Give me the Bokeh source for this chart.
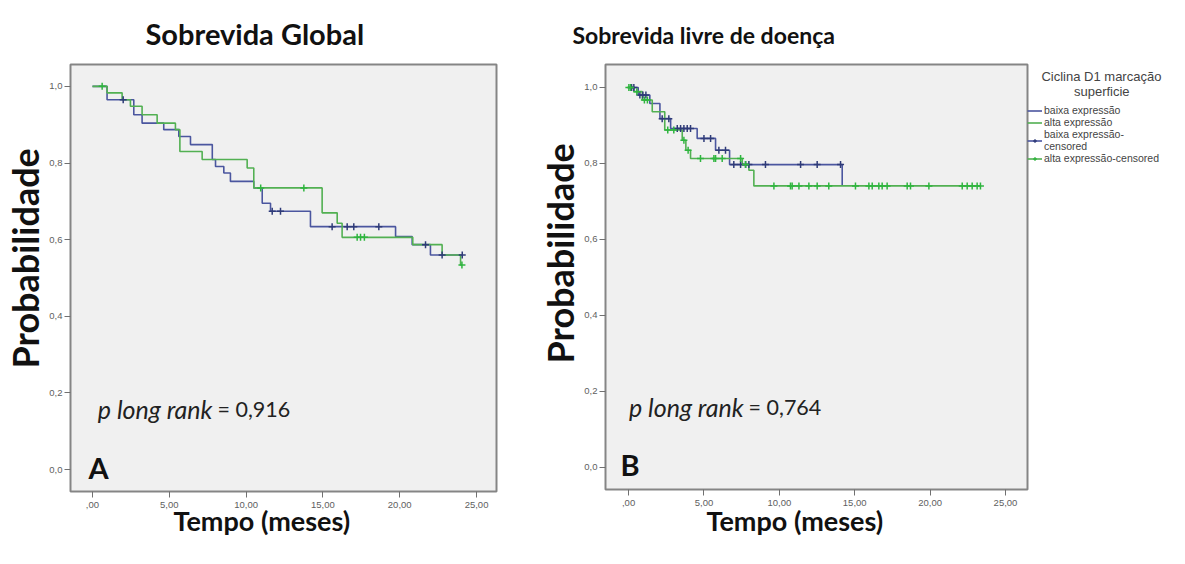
from bokeh.plotting import figure
from bokeh.layouts import row
from bokeh.models import Range1d, FixedTicker, Legend, LegendItem, Label, Title
from bokeh.embed import file_html
from bokeh.resources import INLINE

# ---------------- data ----------------
x_ticks = [0, 5, 10, 15, 20, 25]
x_tick_labels = [",00", "5,00", "10,00", "15,00", "20,00", "25,00"]
y_ticks = [0.0, 0.2, 0.4, 0.6, 0.8, 1.0]
y_tick_labels = ["0,0", "0,2", "0,4", "0,6", "0,8", "1,0"]

groups = ["baixa expressão", "alta expressão"]

# Sobrevida Global (A)
os_baixa_t = [0, 0.95, 2.69, 3.23, 4.64, 5.62, 6.38, 7.80, 8.01, 8.55, 8.98, 10.50, 11.05, 11.59, 14.19, 19.73, 20.81, 22.00, 24.07]
os_baixa_s = [1.0, 0.965, 0.926, 0.904, 0.887, 0.869, 0.848, 0.809, 0.791, 0.774, 0.752, 0.735, 0.695, 0.674, 0.634, 0.608, 0.587, 0.560, 0.560]
os_baixa_cens_t = [2.00, 11.70, 12.24, 15.60, 16.58, 17.01, 18.64, 21.68, 22.76, 24.07]
os_baixa_cens_s = [0.965, 0.674, 0.674, 0.634, 0.634, 0.634, 0.634, 0.587, 0.560, 0.560]

os_alta_t = [0, 0.95, 1.93, 2.47, 3.23, 4.21, 5.40, 5.69, 7.14, 10.07, 10.50, 14.95, 15.93, 16.25, 20.85, 22.76, 23.96, 24.05]
os_alta_s = [1.0, 0.983, 0.965, 0.948, 0.926, 0.904, 0.887, 0.830, 0.809, 0.787, 0.735, 0.670, 0.643, 0.606, 0.587, 0.560, 0.534, 0.534]
os_alta_cens_t = [0.63, 10.95, 13.76, 17.23, 17.45, 17.70, 24.05]
os_alta_cens_s = [1.0, 0.735, 0.735, 0.606, 0.606, 0.606, 0.534]

# Sobrevida livre de doença (B)
dfs_baixa_t = [0, 0.64, 1.41, 2.08, 2.79, 4.55, 5.77, 6.70, 14.17]
dfs_baixa_s = [1.0, 0.980, 0.958, 0.918, 0.892, 0.866, 0.835, 0.797, 0.741]
dfs_baixa_cens_t = [0.20, 0.35, 0.75, 0.95, 1.15, 2.23, 2.67, 3.23, 3.45, 3.67, 3.89, 4.11, 5.00, 5.44,
                    5.99, 6.43, 6.98, 7.43, 7.76, 7.98, 9.08, 11.41, 12.51, 14.06]
dfs_baixa_cens_s = [1.0, 1.0, 0.980, 0.980, 0.980, 0.918, 0.918, 0.892, 0.892, 0.892, 0.892, 0.892, 0.866, 0.866,
                    0.835, 0.835, 0.797, 0.797, 0.797, 0.797, 0.797, 0.797, 0.797, 0.797]

dfs_alta_t = [0, 0.35, 0.91, 1.57, 2.40, 3.56, 3.80, 4.11, 7.54, 7.98, 8.31, 23.34]
dfs_alta_s = [1.0, 0.989, 0.967, 0.936, 0.888, 0.861, 0.835, 0.813, 0.797, 0.782, 0.741, 0.741]
dfs_alta_cens_t = [0.02, 0.13, 0.55, 1.05, 1.25, 2.60, 3.00, 3.67, 3.95, 4.77, 5.66, 5.77, 6.21, 7.43, 7.76,
                   9.64, 10.74, 10.85, 11.30, 11.96, 12.51, 13.28, 15.05, 15.94, 16.16, 16.60, 16.82, 17.15,
                   18.48, 18.70, 19.92, 22.13, 22.46, 22.79, 23.12, 23.34]
dfs_alta_cens_s = [1.0, 1.0, 0.989, 0.967, 0.967, 0.888, 0.888, 0.861, 0.835, 0.813, 0.813, 0.813, 0.813, 0.813, 0.797,
                   0.741, 0.741, 0.741, 0.741, 0.741, 0.741, 0.741, 0.741, 0.741, 0.741, 0.741, 0.741, 0.741,
                   0.741, 0.741, 0.741, 0.741, 0.741, 0.741, 0.741, 0.741]

# ---------------- style ----------------
BLUE = "#4b569f"
BLUE_M = "#2f3b78"
GREEN = "#52b052"
GREEN_M = "#2fb53f"
FRAME_BG = "#f0f0f0"
BIG_FONT = "Lato"
TICK_FONT = "Liberation Sans"
TXT = "#111111"
NB = "\u00a0"


def style_axes(p):
    p.xgrid.visible = False
    p.ygrid.visible = False
    for ax in (p.xaxis[0], p.yaxis[0]):
        ax.axis_line_color = None
        ax.major_tick_line_color = "#707070"
        ax.major_tick_line_width = 1
        ax.major_tick_in = 0
        ax.major_tick_out = 6
        ax.minor_tick_line_color = None
        ax.major_label_text_font = TICK_FONT
        ax.major_label_text_font_size = "9.5px"
        ax.major_label_text_color = "#606060"
    p.xaxis[0].major_label_standoff = 4
    p.yaxis[0].major_label_standoff = 2
    p.xaxis[0].ticker = FixedTicker(ticks=x_ticks)
    p.xaxis[0].major_label_overrides = {t: l for t, l in zip(x_ticks, x_tick_labels)}
    p.yaxis[0].ticker = FixedTicker(ticks=y_ticks)
    p.yaxis[0].major_label_overrides = {t: l for t, l in zip(y_ticks, y_tick_labels)}


def big_title(text, offset, standoff, size):
    return Title(text=text, align="left", offset=offset, standoff=standoff,
                 text_font=BIG_FONT, text_font_size=size, text_font_style="bold", text_color=TXT)


def make_panel(title, t_off, t_stand, x_off, x_stand, y_off, t_size, xr, yr, fw, fh, mbl, mbr, mbt, mbb):
    p = figure(frame_width=fw, frame_height=fh,
               min_border_left=mbl, min_border_right=mbr, min_border_top=mbt, min_border_bottom=mbb,
               x_range=Range1d(*xr), y_range=Range1d(*yr),
               output_backend="svg", toolbar_location=None,
               background_fill_color=FRAME_BG, border_fill_color="white",
               outline_line_color="#858585", outline_line_width=2,
               title=big_title(title, t_off, t_stand, t_size))
    style_axes(p)
    p.add_layout(big_title("Tempo (meses)", x_off, x_stand, "27px"), "below")
    p.add_layout(big_title("Probabilidade", y_off, 0, "36px"), "left")
    return p


def annot(p, x_it, x_n, y, ptxt, letter, letter_x, letter_y):
    p.add_layout(Label(x=x_it, y=y, text="p long rank", text_font=BIG_FONT, text_font_style="italic",
                       text_font_size="25px", text_align="right", text_baseline="alphabetic", text_color="#222222"))
    p.add_layout(Label(x=x_n, y=y, text=ptxt, text_font=BIG_FONT,
                       text_font_size="21.5px", text_align="left", text_baseline="alphabetic", text_color="#222222"))
    p.add_layout(Label(x=letter_x, y=letter_y, text=letter, text_font=BIG_FONT,
                       text_font_style="bold", text_font_size="29px", text_align="left",
                       text_baseline="alphabetic", text_color=TXT))


# ---------------- panel A ----------------
p1 = make_panel("Sobrevida Global", 75, 27, 103, -18, 123, "29px",
                (-1.43, 26.3), (-0.057, 1.057), 426, 427, 66, 38, 61, 58)
p1.step(os_baixa_t, os_baixa_s, mode="after", line_color=BLUE, line_width=1.6)
p1.step(os_alta_t, os_alta_s, mode="after", line_color=GREEN, line_width=1.6)
p1.scatter(os_baixa_cens_t, os_baixa_cens_s, marker="cross", size=7, line_color=BLUE_M, line_width=1.5)
p1.scatter(os_alta_cens_t, os_alta_cens_s, marker="cross", size=7, line_color=GREEN_M, line_width=1.5)
annot(p1, 7.81, 8.14, 0.157, "= 0,916", "A", -0.26, 0.006)

# ---------------- panel B ----------------
p2 = make_panel("Sobrevida livre de doença", -33, 31, 101, -14, 126, "23px",
                (-1.53, 26.46), (-0.058, 1.0605), 422, 425, 71, 138, 64, 57)
rb = p2.step(dfs_baixa_t, dfs_baixa_s, mode="after", line_color=BLUE, line_width=1.6)
ra = p2.step(dfs_alta_t, dfs_alta_s, mode="after", line_color=GREEN, line_width=1.6)
cb = p2.scatter(dfs_baixa_cens_t, dfs_baixa_cens_s, marker="cross", size=7, line_color=BLUE_M, line_width=1.5)
ca = p2.scatter(dfs_alta_cens_t, dfs_alta_cens_s, marker="cross", size=7, line_color=GREEN_M, line_width=1.5)
annot(p2, 7.63, 7.96, 0.158, "= 0,764", "B", -0.53, 0.008)

legend = Legend(
    items=[
        LegendItem(label=groups[0], renderers=[rb]),
        LegendItem(label=groups[1], renderers=[ra]),
        LegendItem(label=groups[0] + "-\ncensored", renderers=[rb, cb]),
        LegendItem(label=groups[1] + "-censored", renderers=[ra, ca]),
    ],
    title=NB * 4 + "Ciclina D1 marcação\n" + NB * 13 + "superficie",
    location=(0, 325), margin=0, padding=2, spacing=-1,
    glyph_width=15, glyph_height=9, label_height=9, label_standoff=2,
    label_text_font=TICK_FONT, label_text_font_size="10.5px", label_text_color="#444444",
    title_text_font=TICK_FONT, title_text_font_size="13px", title_text_color="#444444",
    title_text_font_style="normal", title_standoff=5,
    border_line_color=None, background_fill_alpha=0,
)
p2.add_layout(legend, "right")

layout = row(p1, p2)
open("out.html", "w").write(file_html(layout, INLINE))
